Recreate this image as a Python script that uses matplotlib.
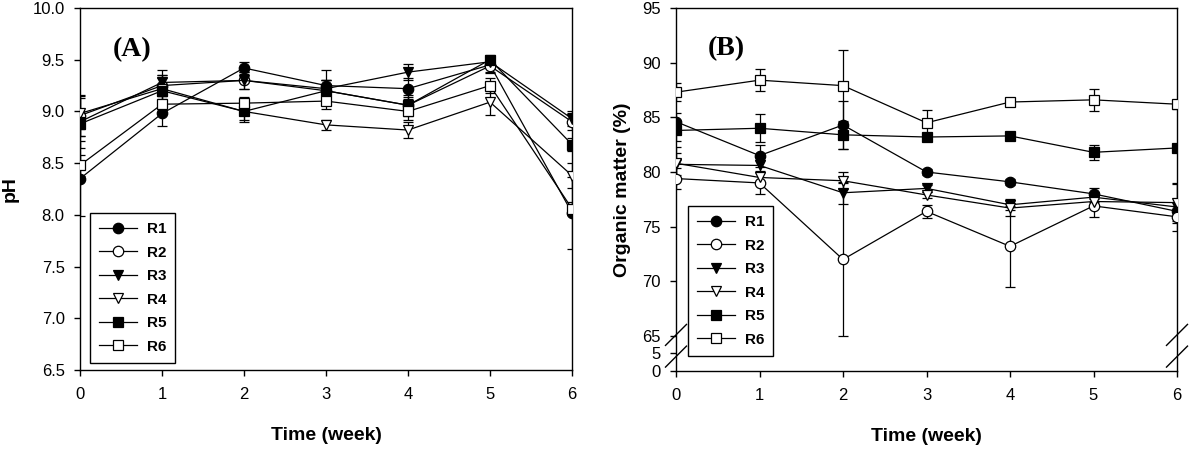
import numpy as np
import matplotlib
matplotlib.use("Agg")
import matplotlib.pyplot as plt
from matplotlib.lines import Line2D

plt.rcParams['font.family'] = ['Liberation Sans', 'DejaVu Sans']

weeks = [0, 1, 2, 3, 4, 5, 6]
names = ['R1', 'R2', 'R3', 'R4', 'R5', 'R6']

# panel A - pH
ph_R1 = [8.35, 8.98, 9.42, 9.25, 9.22, 9.45, 8.02]
ph_R2 = [8.96, 9.25, 9.30, 9.20, 9.06, 9.44, 8.90]
ph_R3 = [8.90, 9.28, 9.30, 9.22, 9.38, 9.48, 8.93]
ph_R4 = [8.98, 9.22, 9.00, 8.87, 8.82, 9.09, 8.38]
ph_R5 = [8.88, 9.20, 9.00, 9.20, 9.06, 9.50, 8.68]
ph_R6 = [8.48, 9.07, 9.08, 9.10, 9.00, 9.25, 8.06]
ph_err_R1 = [0.36, 0.12, 0.06, 0.15, 0.10, 0.08, 0.35]
ph_err_R2 = [0.20, 0.10, 0.08, 0.10, 0.08, 0.06, 0.08]
ph_err_R3 = [0.25, 0.12, 0.08, 0.08, 0.08, 0.06, 0.07]
ph_err_R4 = [0.15, 0.10, 0.08, 0.05, 0.08, 0.12, 0.12]
ph_err_R5 = [0.12, 0.15, 0.10, 0.10, 0.10, 0.05, 0.06]
ph_err_R6 = [0.10, 0.08, 0.06, 0.08, 0.08, 0.07, 0.06]

# panel B - organic matter
om_R1 = [84.6, 81.5, 84.3, 80.0, 79.1, 78.0, 76.4]
om_R2 = [79.4, 79.0, 72.0, 76.4, 73.2, 76.9, 75.9]
om_R3 = [80.7, 80.6, 78.1, 78.5, 77.0, 77.7, 76.8]
om_R4 = [80.8, 79.5, 79.2, 77.9, 76.7, 77.3, 77.2]
om_R5 = [83.8, 84.0, 83.4, 83.2, 83.3, 81.8, 82.2]
om_R6 = [87.3, 88.4, 87.9, 84.5, 86.4, 86.6, 86.2]
om_err_R1 = [0.8, 1.0, 2.2, 0.3, 0.3, 0.5, 0.5]
om_err_R2 = [1.0, 1.0, 7.0, 0.6, 3.7, 1.0, 0.6]
om_err_R3 = [1.0, 0.5, 1.0, 0.3, 0.5, 0.4, 2.2]
om_err_R4 = [1.5, 0.5, 0.8, 0.3, 0.7, 0.5, 1.7]
om_err_R5 = [1.0, 1.3, 1.3, 0.3, 0.3, 0.7, 0.3]
om_err_R6 = [0.8, 1.0, 3.3, 1.2, 0.4, 1.0, 0.4]

ph = [ph_R1, ph_R2, ph_R3, ph_R4, ph_R5, ph_R6]
ph_err = [ph_err_R1, ph_err_R2, ph_err_R3, ph_err_R4, ph_err_R5, ph_err_R6]
om = [om_R1, om_R2, om_R3, om_R4, om_R5, om_R6]
om_err = [om_err_R1, om_err_R2, om_err_R3, om_err_R4, om_err_R5, om_err_R6]

markers = ['o', 'o', 'v', 'v', 's', 's']
faces = ['black', 'white', 'black', 'white', 'black', 'white']
msizes = [7.5, 7.5, 7.5, 7.5, 6.5, 6.5]

W, H = 1194, 453
fig = plt.figure(figsize=(W / 100, H / 100), dpi=100)
axA = fig.add_axes([80 / W, 1 - 370 / H, (572 - 80) / W, (370 - 8) / H])
axB = fig.add_axes([676 / W, 1 - 371 / H, (1177 - 676) / W, (371 - 8) / H])

# broken y axis for panel B: 0-5 and 65-95
brk_v = [0, 5, 65, 95]
brk_p = [0, 18, 35, 363]
def fwd(y):
    return np.interp(y, brk_v, brk_p)
def inv(y):
    return np.interp(y, brk_p, brk_v)
axB.set_yscale('function', functions=(fwd, inv))


def draw(ax, data, errs):
    for i in range(6):
        ax.errorbar(weeks, data[i], yerr=errs[i], color='black', lw=0.9,
                    elinewidth=0.9, capsize=3.5, capthick=0.9,
                    marker=markers[i], ms=msizes[i], mfc=faces[i],
                    mec='black', mew=0.9, label=names[i], zorder=3)
    ax.set_xlim(0, 6)
    ax.set_xticks(weeks)
    ax.tick_params(direction='out', length=4, width=1, labelsize=12,
                   colors='black')
    ax.tick_params(axis='y', pad=7)
    ax.tick_params(axis='x', pad=8)
    for s in ax.spines.values():
        s.set_linewidth(1)
    ax.set_xlabel('Time (week)', fontsize=14, fontweight='bold', labelpad=18)
    handles = [Line2D([], [], color='black', lw=0.9, marker=markers[i],
                      ms=msizes[i], mfc=faces[i], mec='black', mew=0.9)
               for i in range(6)]
    return handles


def add_legend(ax, handles, x, y):
    leg = ax.legend(handles, names, loc='upper left',
                    bbox_to_anchor=(x / W, 1 - y / H),
                    bbox_transform=fig.transFigure, borderaxespad=0,
                    fancybox=False, edgecolor='black', framealpha=1,
                    prop={'weight': 'bold', 'size': 11}, handlelength=2.5,
                    handletextpad=0.6, labelspacing=0.62, borderpad=0.6)
    leg.get_frame().set_linewidth(1)


hA = draw(axA, ph, ph_err)
axA.set_ylim(6.5, 10.0)
axA.set_yticks(np.arange(6.5, 10.01, 0.5))
axA.set_yticklabels(['%.1f' % v for v in np.arange(6.5, 10.01, 0.5)])
axA.set_ylabel('pH', fontsize=14, fontweight='bold', labelpad=10)
axA.text(0.63, 9.6, '(A)', fontsize=20, fontweight='bold',
         family='Liberation Serif', ha='center', va='center')
add_legend(axA, hA, 90, 213)

hB = draw(axB, om, om_err)
axB.set_ylim(0, 95)
axB.set_yticks([0, 5, 65, 70, 75, 80, 85, 90, 95])
axB.set_ylabel('Organic matter (%)', fontsize=14, fontweight='bold',
               labelpad=8)
axB.text(0.6, 91.3, '(B)', fontsize=20, fontweight='bold',
         family='Liberation Serif', ha='center', va='center')
add_legend(axB, hB, 688, 206)

# break marks on both sides of panel B
to_fig = fig.transFigure.inverted()
for xa in [0, 6]:
    for ya in [65.1, 4.0]:
        cx, cy = axB.transData.transform((xa, ya))
        p0 = to_fig.transform((cx - 10.5, cy - 10.5))
        p1 = to_fig.transform((cx + 10.5, cy + 10.5))
        fig.add_artist(Line2D([p0[0], p1[0]], [p0[1], p1[1]],
                              color='black', lw=1))

fig.savefig('out.png', dpi=100)
